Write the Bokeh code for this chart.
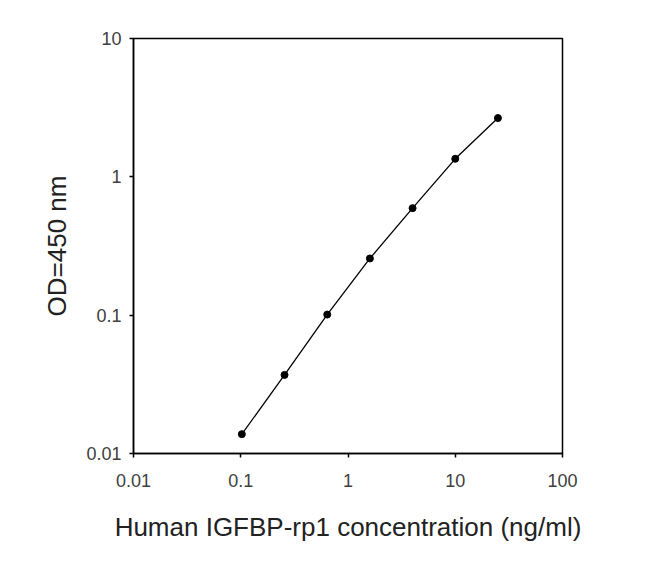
from bokeh.plotting import figure
from bokeh.models import FixedTicker, CustomJSTickFormatter, Range1d
from bokeh.embed import file_html
from bokeh.resources import INLINE

# data
conc = [0.1024, 0.256, 0.64, 1.6, 4.0, 10.0, 25.0]
od = [0.0138, 0.037, 0.101, 0.257, 0.594, 1.35, 2.66]
x_ticks = [0.01, 0.1, 1, 10, 100]
y_ticks = [0.01, 0.1, 1, 10]
x_label = "Human IGFBP-rp1 concentration (ng/ml)"
y_label = "OD=450 nm"

p = figure(width=630, height=555, x_axis_type="log", y_axis_type="log",
           x_range=Range1d(0.01, 100), y_range=Range1d(0.01, 10),
           output_backend="svg", toolbar_location=None,
           min_border_left=133, min_border_right=68,
           min_border_top=38, min_border_bottom=102)

p.line(conc, od, line_color="black", line_width=1.3)
p.scatter(conc, od, marker="circle", size=7, fill_color="black", line_color="black")

p.grid.visible = False
p.outline_line_color = "black"
p.outline_line_width = 1.5
p.background_fill_color = "white"

fmt = CustomJSTickFormatter(code="return tick.toString();")
for ax, ticks, lab in ((p.xaxis[0], x_ticks, x_label), (p.yaxis[0], y_ticks, y_label)):
    ax.ticker = FixedTicker(ticks=ticks, minor_ticks=[])
    ax.formatter = fmt
    ax.axis_label = lab
    ax.axis_line_color = "black"
    ax.axis_line_width = 1.5
    ax.major_tick_line_color = "black"
    ax.major_tick_line_width = 1.5
    ax.major_tick_out = 4
    ax.major_tick_in = 0
    ax.minor_tick_line_color = None
    ax.major_label_text_font = "Liberation Sans"
    ax.major_label_text_font_size = "18px"
    ax.major_label_text_color = "#404040"
    ax.axis_label_text_font = "Liberation Sans"
    ax.axis_label_text_font_size = "26px"
    ax.axis_label_text_font_style = "normal"
    ax.axis_label_text_color = "#222222"

p.xaxis[0].major_label_standoff = 16
p.xaxis[0].axis_label_standoff = 22
p.yaxis[0].major_label_standoff = 8
p.yaxis[0].axis_label_standoff = 11

open("out.html", "w").write(file_html(p, INLINE))
